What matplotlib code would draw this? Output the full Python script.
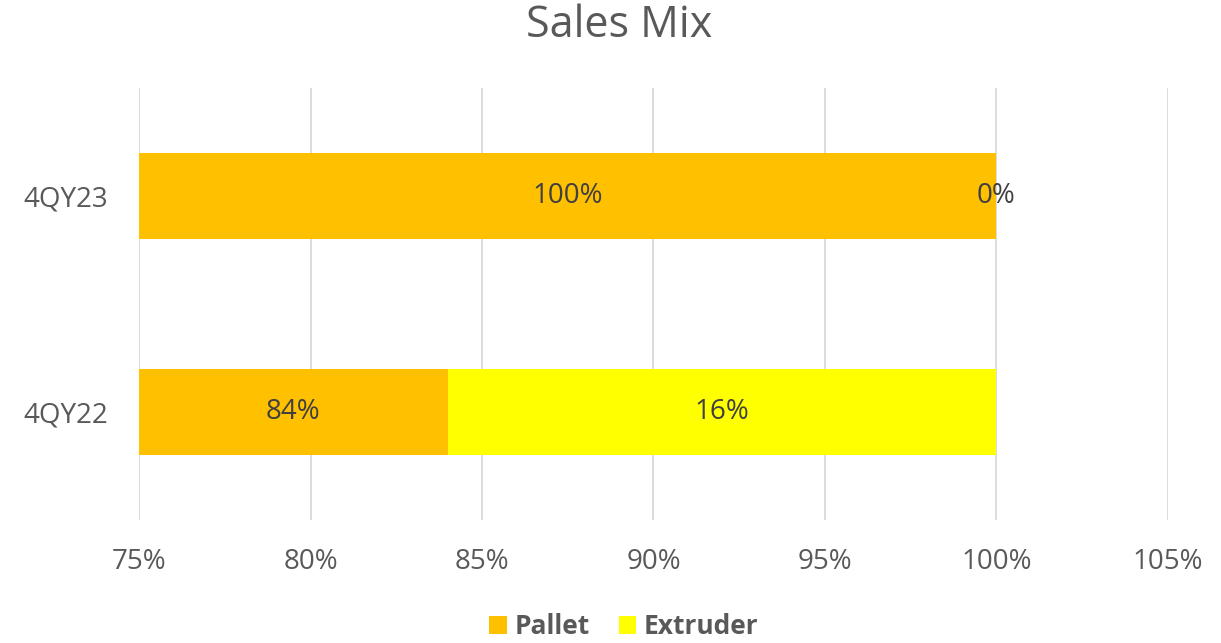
import matplotlib
matplotlib.use("Agg")
import matplotlib.pyplot as plt
import numpy as np

categories = ["4QY22", "4QY23"]
pallet = [0.84, 1.00]
extruder = [0.16, 0.00]
xticks = [0.75, 0.80, 0.85, 0.90, 0.95, 1.00, 1.05]
xtick_labels = ["75%", "80%", "85%", "90%", "95%", "100%", "105%"]

plt.rcParams['font.family'] = ['Open Sans', 'DejaVu Sans']

fig = plt.figure(figsize=(12.21, 6.43), dpi=100)
ax = fig.add_axes([139/1221, 1-520/643, (1168-139)/1221, (520-88)/643])

y = np.arange(len(categories))
xmin, xmax = 0.75, 1.05
h = 0.4
b1 = ax.barh(y, pallet, height=h, color="#FFC000", label="Pallet", zorder=2)
b2 = ax.barh(y, extruder, left=pallet, height=h, color="#FFFF00", label="Extruder", zorder=2)

ax.set_xlim(xmin, xmax)
ax.set_ylim(-0.5, 1.5)
ax.set_xticks(xticks)
ax.set_xticklabels(xtick_labels)
ax.set_yticks(y)
ax.set_yticklabels(categories)
ax.tick_params(axis='both', length=0, labelsize=20, colors="#595959")
ax.tick_params(axis='x', pad=20)
ax.tick_params(axis='y', pad=22)
ax.grid(axis='x', color="#D9D9D9", linewidth=1.3, zorder=0)
for s in ax.spines.values():
    s.set_visible(False)

for i in range(len(categories)):
    p_start = max(0, xmin)
    p_end = pallet[i]
    ax.text((p_start + p_end)/2, y[i], f"{pallet[i]*100:.0f}%", ha='center', va='center',
            fontsize=20, color="#404040", zorder=3)
    e_start = pallet[i]
    e_end = pallet[i] + extruder[i]
    ax.text((e_start + e_end)/2, y[i], f"{extruder[i]*100:.0f}%", ha='center', va='center',
            fontsize=20, color="#404040", zorder=3)

fig.text(619/1221, 1-26/643, "Sales Mix", ha='center', va='center', fontsize=31, color="#595959")

leg = fig.legend(handles=[b1, b2], labels=["Pallet", "Extruder"], loc='center',
                 bbox_to_anchor=(624/1221, 1-627/643), ncol=2, frameon=False,
                 prop={'weight': 'bold', 'size': 19}, handlelength=0.65, handleheight=0.65,
                 handletextpad=0.3, columnspacing=1.1)
for t in leg.get_texts():
    t.set_color("#595959")

fig.savefig("out.png", dpi=100)
